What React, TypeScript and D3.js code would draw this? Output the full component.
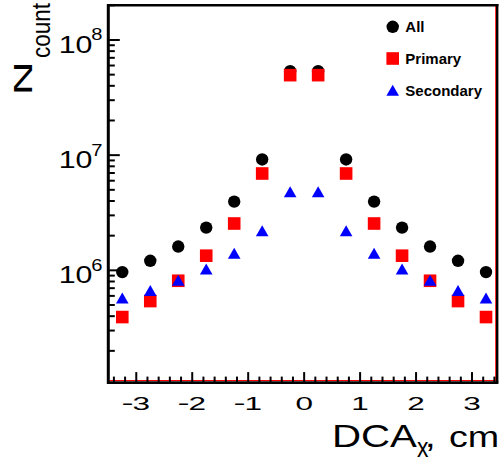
import React from "react";
import * as d3 from "d3";

// ---- data ----
const binCenters = [-3.25, -2.75, -2.25, -1.75, -1.25, -0.75, -0.25, 0.25, 0.75, 1.25, 1.75, 2.25, 2.75, 3.25];
const allCounts = [9.65e5, 1.21e6, 1.61e6, 2.35e6, 3.95e6, 9.17e6, 5.36e7, 5.36e7, 9.17e6, 3.95e6, 2.35e6, 1.61e6, 1.21e6, 9.65e5];
const primaryCounts = [3.93e5, 5.41e5, 8.12e5, 1.34e6, 2.55e6, 6.93e6, 4.95e7, 4.95e7, 6.93e6, 2.55e6, 1.34e6, 8.12e5, 5.41e5, 3.93e5];
const secondaryCounts = [5.75e5, 6.69e5, 8.2e5, 1.025e6, 1.41e6, 2.21e6, 4.82e6, 4.82e6, 2.21e6, 1.41e6, 1.025e6, 8.2e5, 6.69e5, 5.75e5];
const xTickValues = [-3, -2, -1, 0, 1, 2, 3];
const yTickExponents = [6, 7, 8];
const legendLabels = ["All", "Primary", "Secondary"];
const seriesColors = ["#000000", "#ff0000", "#0000ff"];
const xTitle = ["DCA", "x", ",", "cm"];
const yTitle = ["N", "count"];

const FONT = "'Liberation Sans', Arial, Helvetica, sans-serif";

const left = 108.3, right = 497.2, top = 5.3, bottom = 382.6;
const x = d3.scaleLinear().domain([-3.5, 3.45]).range([left, right]);
const y = d3.scaleLog().domain([1.06e5, 2.0e8]).range([bottom, top]);

function T({ x: tx, y: ty, f, sx = 1, sy = 1, rot = 0, anchor = "start", weight = "normal", children }: any) {
  return (
    <text
      transform={`translate(${tx},${ty}) rotate(${rot}) scale(${sx},${sy})`}
      fontSize={f}
      fontFamily={FONT}
      fontWeight={weight}
      textAnchor={anchor}
      fill="#000"
    >
      {children}
    </text>
  );
}

function Marker({ kind, cx, cy, color }: { kind: number; cx: number; cy: number; color: string }) {
  if (kind === 0) return <circle cx={cx} cy={cy} r={6.2} fill={color} />;
  if (kind === 1) return <rect x={cx - 6.3} y={cy - 6.3} width={12.6} height={12.6} fill={color} />;
  const w = 12.6, h = 11;
  return <path d={`M${cx - w / 2},${cy + h / 2}L${cx + w / 2},${cy + h / 2}L${cx},${cy - h / 2}Z`} fill={color} />;
}

export default function App() {
  const series = [allCounts, primaryCounts, secondaryCounts];

  // y minor ticks
  const yMinor: number[] = [];
  for (let e = 5; e <= 8; e++) {
    for (let m = 2; m <= 9; m++) {
      const v = m * Math.pow(10, e);
      const [d0, d1] = y.domain();
      if (v >= d0 && v <= d1) yMinor.push(v);
    }
  }
  // x minor ticks every 0.2
  const xMinor: number[] = [];
  for (let k = -17; k <= 17; k++) {
    const v = k * 0.2;
    if (Math.abs(v - Math.round(v)) > 1e-6 && v >= x.domain()[0] && v <= x.domain()[1]) xMinor.push(v);
  }

  return (
    <svg width={501} height={463} style={{ position: "absolute", left: 0, top: 0, background: "#fff" }}>
      <rect x={0} y={0} width={501} height={463} fill="#fff" />

      {/* red histogram baseline */}
      <line x1={left} x2={right - 1} y1={380.5} y2={380.5} stroke="#ff0000" strokeWidth={1} />
      <line x1={right - 1.5} x2={right - 1.5} y1={top} y2={bottom} stroke="#ff0000" strokeWidth={1} />

      {/* frame */}
      <line x1={left} x2={right + 1.2} y1={top} y2={top} stroke="#000" strokeWidth={2.4} />
      <line x1={right} x2={right} y1={top - 1.2} y2={bottom} stroke="#000" strokeWidth={2.4} />
      <line x1={left} x2={right + 1.2} y1={bottom} y2={bottom} stroke="#000" strokeWidth={2.8} />
      <line x1={left} x2={left} y1={top - 1.2} y2={bottom + 1.4} stroke="#000" strokeWidth={3} />

      {/* y ticks */}
      {yTickExponents.map((e) => (
        <line key={"ym" + e} x1={left} x2={left + 11.5} y1={y(Math.pow(10, e))} y2={y(Math.pow(10, e))} stroke="#000" strokeWidth={2} />
      ))}
      {yMinor.map((v, i) => (
        <line key={"yn" + i} x1={left} x2={left + 6.5} y1={y(v)} y2={y(v)} stroke="#000" strokeWidth={2} />
      ))}
      {/* x ticks */}
      {xTickValues.map((v) => (
        <line key={"xm" + v} x1={x(v)} x2={x(v)} y1={bottom} y2={bottom - 10.5} stroke="#000" strokeWidth={2} />
      ))}
      {xMinor.map((v, i) => (
        <line key={"xn" + i} x1={x(v)} x2={x(v)} y1={bottom} y2={bottom - 6} stroke="#000" strokeWidth={2} />
      ))}

      {/* y tick labels */}
      {yTickExponents.map((e) => {
        const ty = y(Math.pow(10, e));
        return (
          <g key={"yl" + e}>
            <T x={58.7} y={ty + 13} f={24.5} sx={1.24}>10</T>
            <T x={91.2} y={ty + 0.5} f={16.8} sx={1.2}>{String(e)}</T>
          </g>
        );
      })}

      {/* x tick labels */}
      {xTickValues.map((v) => {
        const tx = x(v);
        const neg = v < 0;
        return (
          <g key={"xl" + v}>
            {neg && <T x={tx - 3.5} y={410} f={18} anchor="end">−</T>}
            <T x={tx + (neg ? 5 : 0)} y={410} f={18} sx={1.75} anchor="middle">{String(Math.abs(v))}</T>
          </g>
        );
      })}

      {/* axis titles */}
      <T x={331.9} y={447} f={30.5} sx={1.32}>{xTitle[0]}</T>
      <T x={417} y={457} f={27} sx={0.85}>{xTitle[1]}</T>
      <T x={424.8} y={447} f={30.5} sx={1.3}>{xTitle[2]}</T>
      <T x={449} y={447} f={29} sx={1.3}>{xTitle[3]}</T>

      <T x={32} y={95.6} f={26.5} sx={1.79} rot={-90}>{yTitle[0]}</T>
      <T x={50} y={58} f={25} sx={0.9} rot={-90}>{yTitle[1]}</T>

      {/* markers */}
      {series.map((vals, si) => (
        <g key={"s" + si}>
          {vals.map((v, i) => (
            <Marker key={i} kind={si} cx={x(binCenters[i])} cy={y(v)} color={seriesColors[si]} />
          ))}
        </g>
      ))}

      {/* legend */}
      {legendLabels.map((lab, i) => {
        const ly = 26.8 + i * 31.7;
        return (
          <g key={"lg" + i}>
            <Marker kind={i} cx={392.7} cy={ly} color={seriesColors[i]} />
            <T x={405.3} y={ly + 5.4} f={15} weight="bold">{lab}</T>
          </g>
        );
      })}
    </svg>
  );
}
